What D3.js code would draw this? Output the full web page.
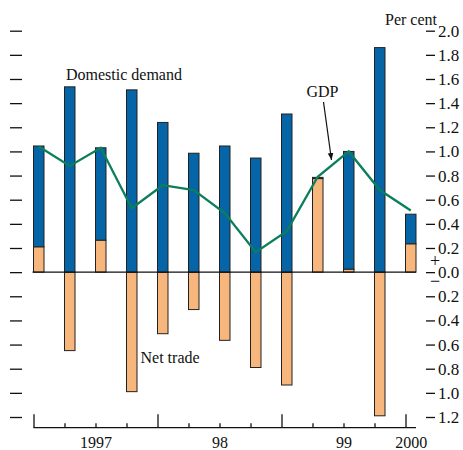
<!DOCTYPE html>
<html><head><meta charset="utf-8">
<script src="https://cdn.jsdelivr.net/npm/d3@7"></script>
<style>
html,body{margin:0;padding:0;background:#fff;}
svg text{font-family:"Liberation Serif","Times New Roman",serif;fill:#111;}
</style></head>
<body>
<svg id="chart" width="463" height="450"></svg>
<script>
// ---- data ----
const quarters = ["1997Q1","1997Q2","1997Q3","1997Q4","1998Q1","1998Q2","1998Q3","1998Q4","1999Q1","1999Q2","1999Q3","1999Q4","2000Q1"];
const domesticDemand = [0.835,1.535,0.765,1.51,1.24,0.985,1.045,0.945,1.31,0.01,0.975,1.86,0.245];
const netTrade = [0.21,-0.65,0.265,-0.99,-0.51,-0.31,-0.565,-0.79,-0.935,0.775,0.025,-1.19,0.235];
const gdp = [1.04,0.88,1.03,0.53,0.72,0.68,0.49,0.165,0.34,0.79,1.0,0.68,0.51];
const yTicks = [2.0,1.8,1.6,1.4,1.2,1.0,0.8,0.6,0.4,0.2,0.0,-0.2,-0.4,-0.6,-0.8,-1.0,-1.2];
const yearLabels = ["1997","98","99","2000"];

// ---- layout ----
const svg = d3.select("#chart");
const y = d3.scaleLinear().domain([-1.2, 2.0]).range([417, 30.7]);
const x = d3.scaleLinear().domain([0, quarters.length - 1]).range([33.5, 405.5]);
const barW = 10.5;
const axisEnd = x(quarters.length - 1) + barW;
const baseY = 427.7;
const SERIF = '"Liberation Serif","Times New Roman",serif';

const blue = "#0565a6", orange = "#f6b67c", green = "#0b7f5c";

// stacked data
const rows = quarters.map((q, i) => ({q, i, net: netTrade[i], dom: domesticDemand[i]}));
const series = d3.stack().keys(["net", "dom"]).offset(d3.stackOffsetDiverging)(rows);
const colors = {net: orange, dom: blue};

series.forEach(s => {
  svg.append("g").selectAll("rect").data(s).join("rect")
    .attr("x", d => x(d.data.i))
    .attr("y", d => y(Math.max(d[0], d[1])))
    .attr("width", barW)
    .attr("height", d => Math.abs(y(d[0]) - y(d[1])))
    .attr("fill", colors[s.key])
    .attr("stroke", "#222")
    .attr("stroke-width", 1);
});

// zero line
svg.append("line").attr("x1", x(0) - 1).attr("x2", axisEnd)
  .attr("y1", y(0)).attr("y2", y(0)).attr("stroke", "#111").attr("stroke-width", 1.3);

// GDP line
svg.append("path").datum(gdp)
  .attr("fill", "none").attr("stroke", green).attr("stroke-width", 2.3)
  .attr("stroke-linejoin", "miter")
  .attr("d", d3.line().x((d, i) => x(i) + barW / 2).y(d => y(d)));

// right axis
const fmt = v => d3.format(".1f")(Math.abs(v));
const rAxis = svg.append("g").attr("transform", "translate(426,0)")
  .call(d3.axisRight(y).tickValues(yTicks).tickSize(9).tickPadding(3).tickFormat(fmt))
  .attr("font-family", SERIF).attr("font-size", 17);
rAxis.select(".domain").remove();
rAxis.selectAll(".tick line").attr("stroke", "#111").attr("stroke-width", 1.3);
rAxis.selectAll(".tick text").attr("fill", "#111");

// left ticks (no labels)
const lAxis = svg.append("g").attr("transform", "translate(22,0)")
  .call(d3.axisLeft(y).tickValues(yTicks).tickSize(12).tickFormat(""));
lAxis.select(".domain").remove();
lAxis.selectAll(".tick line").attr("stroke", "#111").attr("stroke-width", 1.3);

// +/- signs at zero
svg.append("text").attr("x", 435).attr("y", 266.5).attr("text-anchor", "middle")
  .attr("font-size", 18).text("+");
svg.append("text").attr("x", 435).attr("y", 287).attr("text-anchor", "middle")
  .attr("font-size", 18).text("\u2212");

// x axis
svg.append("line").attr("x1", x(0)).attr("x2", axisEnd).attr("y1", baseY).attr("y2", baseY)
  .attr("stroke", "#111").attr("stroke-width", 1.3);
const idx = d3.range(quarters.length);
const xAxis = svg.append("g").attr("transform", `translate(0,${baseY})`)
  .call(d3.axisBottom(x).tickValues(idx).tickFormat("").tickSizeInner(0).tickSizeOuter(0));
xAxis.select(".domain").remove();
xAxis.selectAll(".tick line")
  .attr("y2", d => quarters[d].endsWith("Q1") ? -13.5 : -4.5)
  .attr("stroke", "#111").attr("stroke-width", 1.3);

// year labels centred on their span
const years = Array.from(new Set(quarters.map(q => q.slice(0, 4))));
years.forEach((yr, k) => {
  const first = quarters.findIndex(q => q.startsWith(yr));
  const lastIdx = quarters.length - 1 - [...quarters].reverse().findIndex(q => q.startsWith(yr));
  const x0 = x(first);
  const x1 = lastIdx + 1 < quarters.length ? x(lastIdx + 1) : axisEnd;
  svg.append("text").attr("x", (x0 + x1) / 2 + 0.5).attr("y", 448)
    .attr("text-anchor", "middle").attr("font-size", 16).text(yearLabels[k]);
});

// annotations
svg.append("text").attr("x", 66).attr("y", 80).attr("font-size", 16).text("Domestic demand");
svg.append("text").attr("x", 140.5).attr("y", 363).attr("font-size", 16).text("Net trade");
svg.append("text").attr("x", 306.5).attr("y", 97).attr("font-size", 16).text("GDP");
svg.append("text").attr("x", 385).attr("y", 25).attr("font-size", 16).text("Per cent");

// arrow
svg.append("defs").append("marker").attr("id", "ah")
  .attr("viewBox", "0 0 10 10").attr("refX", 10).attr("refY", 5)
  .attr("markerWidth", 7).attr("markerHeight", 7).attr("orient", "auto")
  .attr("markerUnits", "userSpaceOnUse")
  .append("path").attr("d", "M0,1 L10,5 L0,9 Z").attr("fill", "#111");
svg.append("line").attr("x1", 323.5).attr("y1", 102).attr("x2", 331.5).attr("y2", 160)
  .attr("stroke", "#111").attr("stroke-width", 1.2).attr("marker-end", "url(#ah)");
</script>
</body></html>
